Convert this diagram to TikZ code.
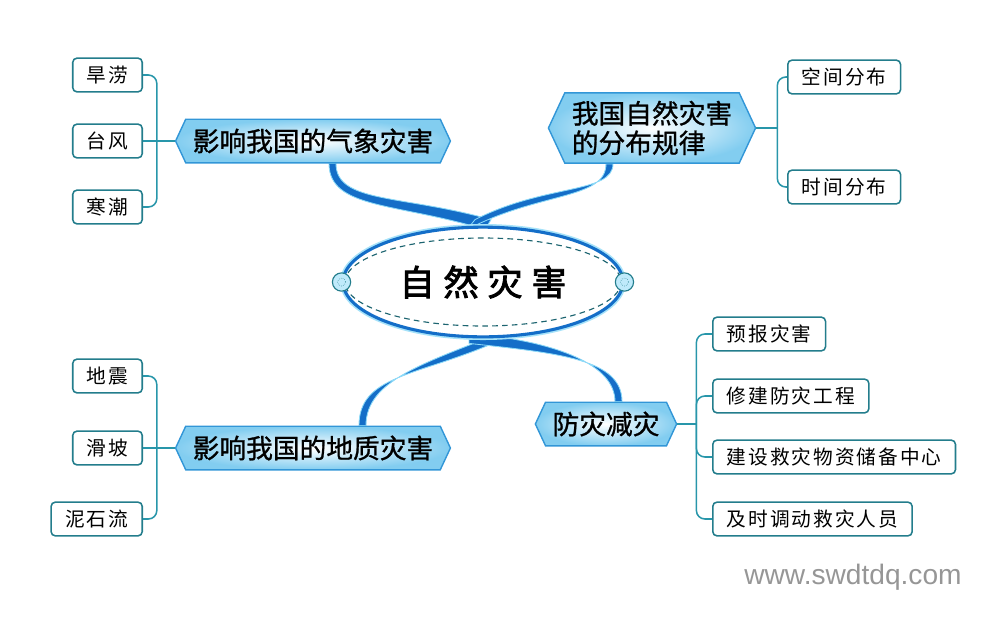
\documentclass[tikz,border=0pt]{standalone}
\usepackage{fontspec}
\setmainfont{Liberation Sans}
\newfontfamily\cjk[LetterSpace=10]{Noto Sans CJK SC}
\newfontfamily\cjkmid[FakeBold=1]{Noto Sans CJK SC}
\newfontfamily\cjkbrush[FakeBold=2.5,LetterSpace=25]{Noto Sans CJK SC}
\usetikzlibrary{positioning,calc,shapes.geometric,shapes.symbols,backgrounds}

\definecolor{ribblue}{RGB}{20,110,200}
\definecolor{edgeblue}{RGB}{50,150,215}
\definecolor{paleblue}{RGB}{130,205,240}
\definecolor{leafteal}{RGB}{35,125,140}
\definecolor{linkteal}{RGB}{40,150,170}
\definecolor{webgray}{RGB}{150,150,150}

\begin{document}
\begin{tikzpicture}[x=0.025cm, y=-0.025cm,
    hub/.style={ellipse, draw=ribblue, line width=2.2pt, fill=white,
        preaction={draw=cyan!35, line width=4.5pt},
        minimum width=199pt, minimum height=78pt, inner sep=0,
        font=\cjkbrush\fontsize{25}{27}\selectfont},
    seam/.style={draw=leafteal!80!black, line width=0.8pt, dash pattern=on 4pt off 3pt},
    knob/.style={circle, draw=leafteal, fill=cyan!25, line width=0.8pt, minimum size=13pt, inner sep=0},
    branch/.style={signal, signal to=west and east, signal pointer angle=130,
        draw=edgeblue, line width=1pt, inner color=white, outer color=paleblue,
        minimum height=31pt, inner xsep=5pt,
        font=\cjkmid\fontsize{19}{21}\selectfont},
    leaf/.style={rectangle, rounded corners=3pt, draw=leafteal, line width=1.1pt, fill=white,
        minimum height=24pt, inner xsep=10pt, inner ysep=2pt,
        font=\cjk\fontsize{14}{16}\selectfont},
    link/.style={draw=linkteal, line width=1.1pt, rounded corners=6pt},
    ribbon/.style={fill=ribblue, draw=cyan!45, line width=0.6pt}]
    \useasboundingbox (0,0) rectangle (996,621);

    % centre
    \node[hub] (C) at (483,282) {自然灾害};
    \draw[seam] (C) ellipse [x radius=138, y radius=44];
    \node[knob] (KL) at (C.west) {};
    \node[knob] (KR) at (C.east) {};
    \draw[leafteal, densely dotted] (KL) circle (4) (KR) circle (4);

    % branches
    \node[branch] (B1) at (313,141) {影响我国的气象灾害};
    \node[branch, align=left, minimum height=50pt] (B2) at (652,128) {我国自然灾害\\的分布规律};
    \node[branch] (B3) at (313,448) {影响我国的地质灾害};
    \node[branch] (B4) at (606,424) {防灾减灾};

    % ribbons
    \begin{scope}[on background layer]
    \fill[ribbon] ($(B1.south)+(16,0)$) .. controls +(0,46) and +(-87,-27) .. ($(C.north)+(2,4)$)
        -- ($(C.north)+(8,-6)$) .. controls +(-88,-25) and +(0,40) .. ($(B1.south)+(23,0)$) -- cycle;
    \fill[ribbon] ($(B2.south)+(-46,0)$) .. controls +(0,36) and +(72,-38) .. ($(C.north)+(-16,4)$)
        -- ($(C.north)+(-8,-6)$) .. controls +(70,-36) and +(0,30) .. ($(B2.south)+(-39,0)$) -- cycle;
    \fill[ribbon] ($(B3.north)+(46,0)$) .. controls +(0,-50) and +(-77,33) .. ($(C.south)+(10,5)$)
        -- ($(C.south)+(16,-5)$) .. controls +(-75,30) and +(0,-45) .. ($(B3.north)+(53,0)$) -- cycle;
    \fill[ribbon] ($(B4.north)+(16,0)$) .. controls +(0,-42) and +(92,10) .. ($(C.south)+(-14,5)$)
        -- ($(C.south)+(-14,-5)$) .. controls +(90,8) and +(0,-36) .. ($(B4.north)+(9,0)$) -- cycle;
    \end{scope}

    % leaves
    \node[leaf, anchor=east] (L1) at (143,75) {旱涝};
    \node[leaf, anchor=east] (L2) at (143,141) {台风};
    \node[leaf, anchor=east] (L3) at (143,207) {寒潮};
    \node[leaf, anchor=west] (S1) at (787,77) {空间分布};
    \node[leaf, anchor=west] (S2) at (787,187) {时间分布};
    \node[leaf, anchor=east] (G1) at (143,376) {地震};
    \node[leaf, anchor=east] (G2) at (143,448) {滑坡};
    \node[leaf, anchor=east] (G3) at (143,519) {泥石流};
    \node[leaf, anchor=west] (P1) at (712,334) {预报灾害};
    \node[leaf, anchor=west] (P2) at (712,396) {修建防灾工程};
    \node[leaf, anchor=west] (P3) at (712,457) {建设救灾物资储备中心};
    \node[leaf, anchor=west] (P4) at (712,519) {及时调动救灾人员};

    % brackets
    \coordinate (J1) at ($(B1.west)+(-18,0)$);
    \coordinate (J2) at ($(B2.east)+(21,0)$);
    \coordinate (J3) at ($(B3.west)+(-18,0)$);
    \coordinate (J4) at ($(B4.east)+(19,0)$);
    \draw[link] (B1.west) -- (J1) (L2.east) -- (J1);
    \draw[link] (L1.east) -| (J1) |- (L3.east);
    \draw[link] (B2.east) -- (J2);
    \draw[link] (S1.west) -| (J2) |- (S2.west);
    \draw[link] (B3.west) -- (J3) (G2.east) -- (J3);
    \draw[link] (G1.east) -| (J3) |- (G3.east);
    \draw[link] (B4.east) -- (J4);
    \draw[link] (P1.west) -| (J4) |- (P4.west);
    \draw[link] (P2.west) -| (J4);
    \draw[link] (P3.west) -| (J4);

    \node[text=webgray, font=\fontsize{20}{22}\selectfont] (W) at (853,577) {www.swdtdq.com};
\end{tikzpicture}
\end{document}
